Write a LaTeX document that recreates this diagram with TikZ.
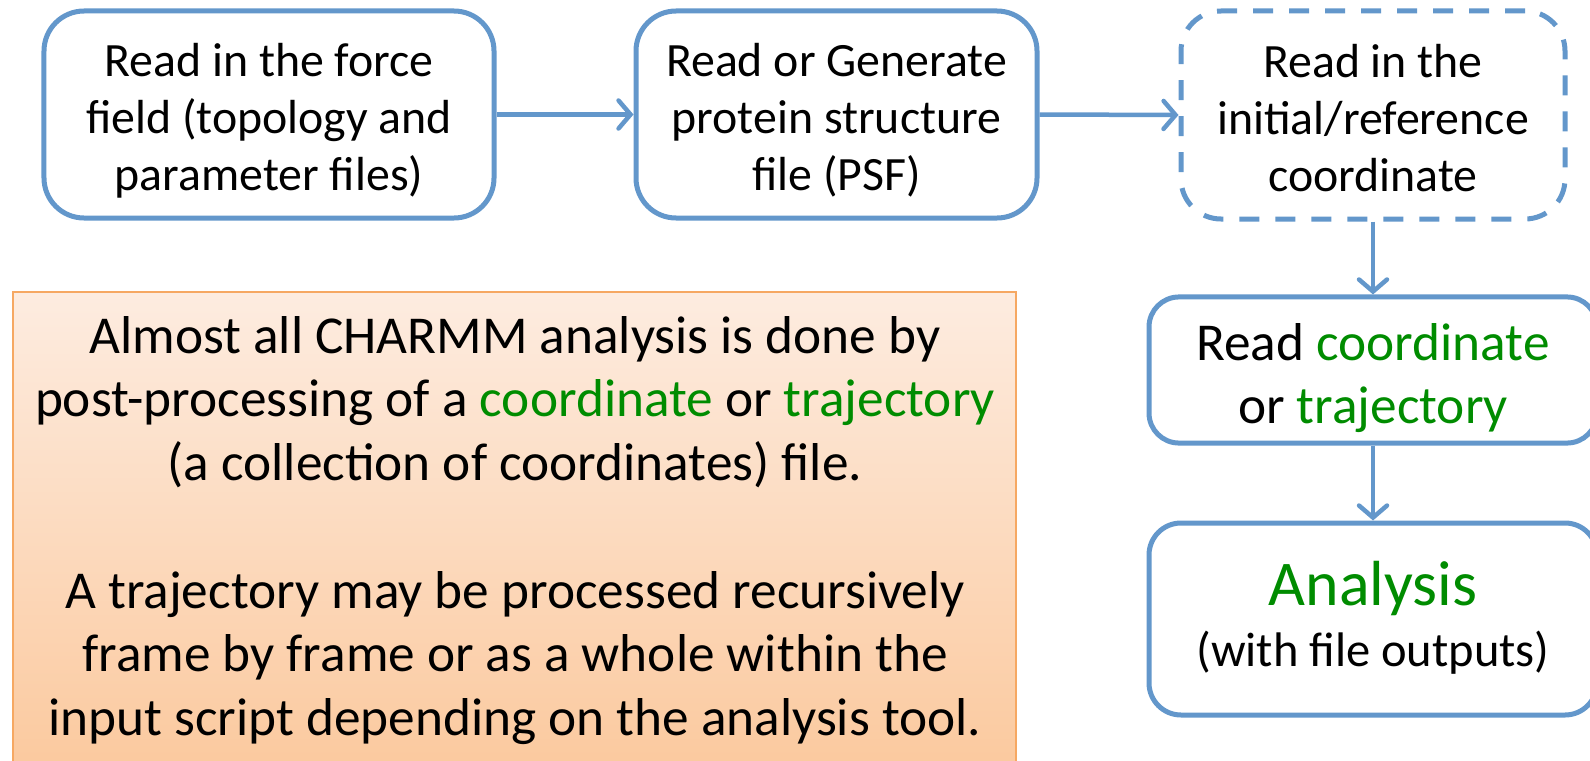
\documentclass[tikz,border=0pt]{standalone}
\usepackage{fontspec}
\setmainfont{Carlito}
\usetikzlibrary{arrows.meta}
\definecolor{boxblue}{RGB}{99,151,203}
\definecolor{txtgreen}{RGB}{0,140,0}
\definecolor{orTop}{RGB}{253,236,224}
\definecolor{orBot}{RGB}{251,199,154}
\definecolor{orLine}{RGB}{246,168,98}
\tikzset{
  flowbox/.style={draw=boxblue, line width=5bp, rounded corners=40bp, fill=white,
    align=center, inner sep=0pt, text=black},
  dashbox/.style={flowbox, dash pattern=on 20bp off 16bp},
  arr/.style={draw=boxblue, line width=4.5bp,
    -{Straight Barb[length=12bp,width=28bp,line cap=round]}},
  toptext/.style={font=\fontsize{48}{57}\selectfont},
  bigtext/.style={font=\fontsize{53.5}{64}\selectfont},
}
\newcommand{\gr}[1]{\textcolor{txtgreen}{#1}}
\newcommand{\tl}[1]{\rule{0pt}{#1bp}}
\begin{document}
\begin{tikzpicture}[x=1bp,y=-1bp]
\useasboundingbox (0,0) rectangle (1590,761);
% orange note box
\shade[top color=orTop, bottom color=orBot, draw=orLine, line width=2bp]
  (13,292) rectangle (1016,800);
\node[bigtext, align=center, text=black, inner sep=0pt, anchor=north] (note) at (515,308.2)
  {\strut Almost all CHARMM analysis is done by\\
   \strut post-processing of a \gr{coordinate} or \gr{trajectory}\\
   \strut (a collection of coordinates) file.\\
   \strut\\
   \strut A trajectory may be processed recursively\\
   \strut frame by frame or as a whole within the\\
   \strut input script depending on the analysis tool.};
% flow boxes
\node[flowbox, toptext, minimum width=450bp, minimum height=207bp] (b1) at (269,114.5)
  {\tl{55.5}\strut Read in the force\\ \strut field (topology and\\ \strut parameter files)};
\node[flowbox, toptext, minimum width=401bp, minimum height=207bp] (b2) at (836.5,114.5)
  {\tl{55.5}\strut Read or Generate\\ \strut protein structure\\ \strut file (PSF)};
\node[dashbox, toptext, minimum width=384bp, minimum height=208bp] (b3) at (1373,115)
  {\tl{55.5}\strut Read in the\\ \strut initial/reference\\ \strut coordinate};
\node[flowbox, bigtext, rounded corners=30bp, minimum width=448bp, minimum height=144bp] (b4) at (1373,370)
  {\tl{63.2}\strut Read \gr{coordinate}\\ \strut or \gr{trajectory}};
\node[flowbox, font=\fontsize{48.7}{62}\selectfont, rounded corners=32bp,
      minimum width=448bp, minimum height=192bp] (b5) at (1373,619)
  {\tl{52.6}\strut{\fontsize{64}{62}\selectfont\gr{Analysis}}\\
   \strut(with file outputs)};
% connectors
\draw[arr] (b1.east) -- (b2.west);
\draw[arr] (b2.east) -- (b3.west);
\draw[arr] (b3.south) -- (b4.north);
\draw[arr] (b4.south) -- (b5.north);
\end{tikzpicture}
\end{document}
